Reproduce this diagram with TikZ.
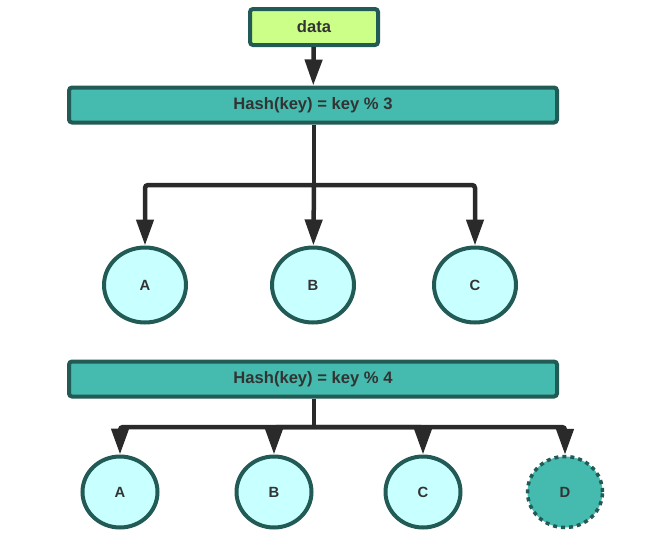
\documentclass[tikz,border=0pt]{standalone}
\usepackage{fontspec}
\setmainfont{Liberation Sans}
\usetikzlibrary{shapes.geometric,arrows.meta}
\definecolor{edge}{HTML}{225A55}
\definecolor{wire}{HTML}{2A2A2A}
\definecolor{datafill}{HTML}{CCFF88}
\definecolor{hashfill}{HTML}{44BBAE}
\definecolor{bucketfill}{HTML}{C8FFFF}
\definecolor{ink}{HTML}{333333}

\begin{document}
\begin{tikzpicture}[x=1pt,y=-1pt,
    box/.style={draw=edge, line width=4pt, rounded corners=3pt, text=ink, inner sep=0pt, font=\fontsize{16.6}{18}\selectfont\bfseries},
    databox/.style={box, fill=datafill, minimum width=128pt, minimum height=36pt},
    hashbox/.style={box, fill=hashfill, minimum width=488pt, minimum height=35pt},
    bucket/.style={ellipse, draw=edge, line width=4pt, fill=bucketfill, text=ink, inner sep=0pt, font=\fontsize{14.8}{16}\selectfont\bfseries, minimum width=82pt, minimum height=75pt},
    smallbucket/.style={bucket, minimum width=75pt, minimum height=71pt},
    newbucket/.style={smallbucket, fill=hashfill, line width=3.5pt, dash pattern=on 4pt off 4pt},
    link/.style={draw=wire, line width=4.5pt, rounded corners=3pt},
    arr/.style={link, -{Triangle[length=26pt, width=17pt]}},
]
\useasboundingbox (0,0) rectangle (653,549);

\node[databox] (data) at (314,27) {data};
\node[hashbox] (hash3) at (313,105) {Hash(key) = key \% 3};
\node[bucket] (a3) at (145,285) {A};
\node[bucket] (b3) at (313,285) {B};
\node[bucket] (c3) at (475,285) {C};

\node[hashbox] (hash4) at (313,379) {Hash(key) = key \% 4};
\node[smallbucket] (a4) at (120,492) {A};
\node[smallbucket] (b4) at (274,492) {B};
\node[smallbucket] (c4) at (423,492) {C};
\node[newbucket] (d4) at (565,492) {D};

\coordinate (split3) at (314,185);
\coordinate (split4) at (314,427);

\draw[arr] (data) -- (hash3);
\draw[link] (hash3.south -| split3) -- (split3);
\draw[arr] (split3) -| (a3);
\draw[arr] (split3) -- (b3);
\draw[arr] (split3) -| (c3);

\draw[link] (hash4.south -| split4) -- (split4);
\draw[arr] (split4) -| (a4);
\draw[arr] (split4) -| (b4);
\draw[arr] (split4) -| (c4);
\draw[arr] (split4) -| (d4);
\end{tikzpicture}
\end{document}
